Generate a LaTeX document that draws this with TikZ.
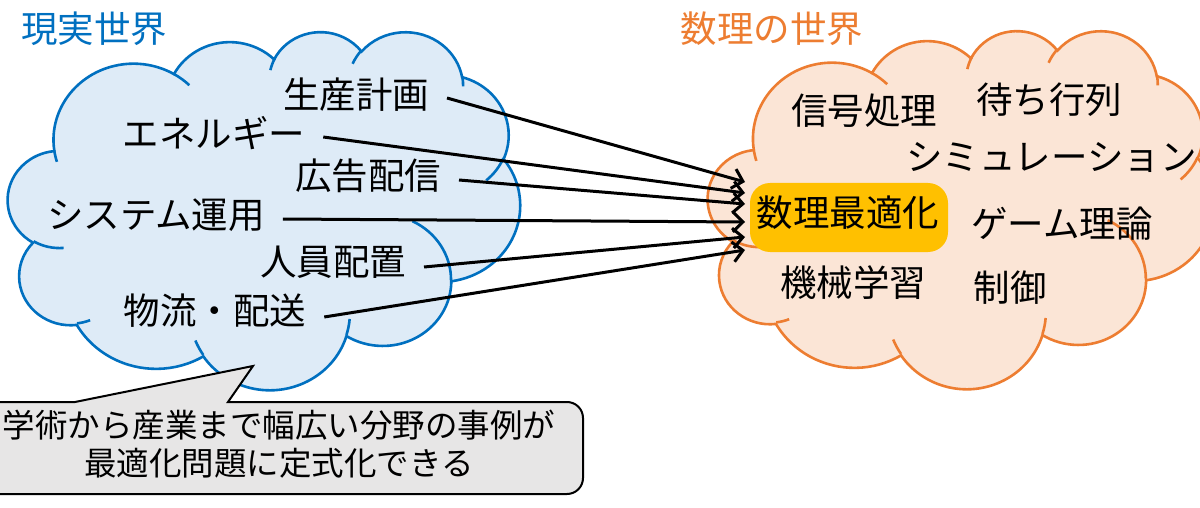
\documentclass[tikz,border=0pt]{standalone}
\usepackage{fontspec}
\setmainfont{Noto Sans CJK JP}
\usetikzlibrary{arrows.meta}
\definecolor{bS}{HTML}{0070C0}
\definecolor{bF}{HTML}{DEEBF7}
\definecolor{oS}{HTML}{ED7D31}
\definecolor{oF}{HTML}{FBE5D6}
\definecolor{gold}{HTML}{FFC000}
\definecolor{cg}{HTML}{E7E6E6}
\newcommand\carc[4]{arc[x radius=#1pt,y radius=#2pt,start angle={(-pang(#3,#1,#2))},delta angle={(-mod(pang((#3)+(#4),#1,#2)-pang(#3,#1,#2)+720,360))}]}
\newcommand\drawcloud[6]{%
\begin{scope}[shift={(#1,#2)},xscale=#3/43.2,yscale=#4/43.2]
\draw[line width=2.6pt,draw=#6,fill=#5] (3.9,14.37)
 \carc{6.753}{9.19}{-190.4875}{123.7805}
 \carc{5.333}{7.267}{-144.1024}{89.9452}
 \carc{4.365}{5.945}{-145.8079}{99.7230}
 \carc{4.857}{6.595}{-130.9861}{117.2417}
 \carc{5.333}{7.273}{-78.7089}{109.0269}
 \carc{6.775}{9.22}{-46.2673}{130.2690}
 \carc{5.785}{7.867}{0.6250}{114.0333}
 \carc{6.752}{9.215}{22.4516}{115.1726}
 \carc{7.72}{10.543}{66.2426}{75.7110}
 \carc{4.36}{5.918}{-274.9421}{146.7356}
 \carc{4.345}{5.945}{-246.8285}{152.5189}
 -- cycle;
\draw[line width=2.6pt,draw=#6]
 (4.693,26.177) \carc{4.345}{5.945}{86.7420}{26.4295}
 (6.928,34.899) \carc{4.36}{5.918}{73.6105}{11.4475}
 (16.478,39.09) \carc{6.752}{9.215}{137.6242}{14.0811}
 (28.827,34.751) \carc{6.752}{9.215}{6.4533}{15.9984}
 (34.129,22.954) \carc{5.785}{7.867}{-70.2924}{70.9174}
 (41.798,15.354) \carc{5.333}{7.273}{30.3180}{27.7515}
 (38.324,5.426) \carc{4.857}{6.595}{-13.7443}{14.8589}
 (29.078,3.952) \carc{4.857}{6.595}{-149.1815}{18.1954}
 (22.141,4.72) \carc{4.365}{5.945}{-163.4943}{17.6864}
 (14.0,5.192) \carc{6.753}{9.19}{-66.7070}{12.3194}
 (4.127,15.789) \carc{6.753}{9.19}{157.6544}{11.8582};
\end{scope}}
\begin{document}
\begin{tikzpicture}[x=1pt,y=-1pt,
  declare function={pang(\pA,\pW,\pH)=atan2(\pW*sin(\pA),\pH*cos(\pA));},
  lab/.style={inner sep=0pt,outer xsep=18pt,font=\fontsize{36.5}{40}\selectfont},
  arr/.style={line width=3pt,-{Straight Barb[length=10pt,width=20pt]}}]
\clip (0,0) rectangle (1200,508);
\fill[white] (0,0) rectangle (1200,508);
% clouds
\drawcloud{8}{31}{512}{358}{bF}{bS}
\drawcloud{708}{30}{506}{358}{oF}{oS}
% titles
\node[lab,text=bS] (t1) at (94,29) {現実世界};
\node[lab,text=oS] (t2) at (772,29) {数理の世界};
% left labels
\node[lab] (a1) at (356,95) {生産計画};
\node[lab] (a2) at (214,133) {エネルギー};
\node[lab] (a3) at (368,176) {広告配信};
\node[lab] (a4) at (156,215) {システム運用};
\node[lab] (a5) at (333,262) {人員配置};
\node[lab] (a6) at (215,311) {物流・配送};
% right
\node[fill=gold,rounded corners=20pt,minimum width=198pt,minimum height=69pt,inner sep=0pt] (optbox) at (849,217.5) {};
\node[lab] (b0) at (848,213) {数理最適化};
\node[lab] (b1) at (864,111) {信号処理};
\node[lab] (b2) at (1049,100) {待ち行列};
\node[lab,anchor=west,outer xsep=0pt] (b3) at (906,158) {シミュレーション};
\node[lab] (b4) at (1062,224) {ゲーム理論};
\node[lab] (b5) at (853,283) {機械学習};
\node[lab] (b6) at (1010,288) {制御};
% arrows
\coordinate (e1) at (745,182);
\coordinate (e2) at (745,193);
\coordinate (e3) at (745,204);
\coordinate (e4) at (745,222);
\coordinate (e5) at (745,237);
\coordinate (e6) at (745,250);
\draw[arr] ([yshift=-3pt]a1.east) -- (e1);
\draw[arr] ([yshift=-4pt]a2.east) -- (e2);
\draw[arr] ([yshift=-4pt]a3.east) -- (e3);
\draw[arr] ([yshift=-4pt]a4.east) -- (e4);
\draw[arr] ([yshift=-5pt]a5.east) -- (e5);
\draw[arr] ([yshift=-6pt]a6.east) -- (e6);
% callout
\draw[line width=2pt,fill=cg,draw=black] (-30,402) -- (75,402) -- (253,366) -- (228,402) -- (567,402)
  arc[start angle=90,end angle=0,radius=16pt] -- (583,478)
  arc[start angle=0,end angle=-90,radius=16pt] -- (-30,494) -- cycle;
\node[font=\fontsize{32.5}{38}\selectfont,align=center,inner sep=0pt] (note) at (279,444) {学術から産業まで幅広い分野の事例が\\最適化問題に定式化できる};
\end{tikzpicture}
\end{document}
